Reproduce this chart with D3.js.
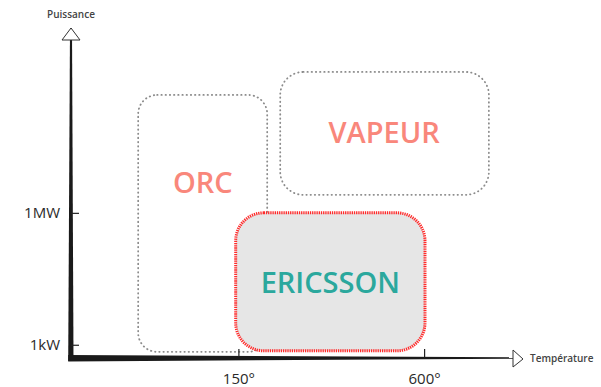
<!DOCTYPE html>
<html>
<head>
<meta charset="utf-8">
<script src="https://cdn.jsdelivr.net/npm/d3@7"></script>
<style>
  body { margin: 0; background: #fff; }
  svg { display: block; font-family: "Open Sans", sans-serif; }
</style>
</head>
<body>
<div id="canvas"></div>
<script>
"use strict"

/* drawing size */
let svgWidth = 601;
let svgHeight = 387;

/* data: technology zones, temperature in deg C, power in kW */
let zoneNames = ["ORC", "VAPEUR", "ERICSSON"];
let zoneTmin = [71, 205, 147];
let zoneTmax = [186, 973, 604];
let zonePmin = [0.69, 2570, 0.73];
let zonePmax = [480000, 1600000, 1000];
/* where each name sits */
let labelT = [115, 445, 298];
let labelP = [4800, 66000, 25.7];

/* axis ticks */
let tempTicks = [150, 600];
let tempTickLabels = ["150°", "600°"];
let powerTicks = [1, 1000];
let powerTickLabels = ["1kW", "1MW"];

/* axis extents */
let tempDomain = [43, 1165];
let powerDomain = [0.5, 16000000];

/* scales (both log) */
let xScale = d3.scaleLog()
    .domain(tempDomain)
    .range([71, 513]);

let yScale = d3.scaleLog()
    .domain(powerDomain)
    .range([358, 28]);

let svg = d3.select("#canvas")
    .append("svg")
    .attr("width", svgWidth)
    .attr("height", svgHeight);

/* zones */
let zones = zoneNames.map(function (name, i) {
    return { name: name, t0: zoneTmin[i], t1: zoneTmax[i], p0: zonePmin[i], p1: zonePmax[i], lt: labelT[i], lp: labelP[i] };
});

let cornerRadius = { "ORC": 19, "VAPEUR": 23, "ERICSSON": 28 };

svg.selectAll("rect.zone")
    .data(zones)
    .join("rect")
    .attr("class", "zone")
    .attr("x", function (d) { return xScale(d.t0); })
    .attr("y", function (d) { return yScale(d.p1); })
    .attr("width", function (d) { return xScale(d.t1) - xScale(d.t0); })
    .attr("height", function (d) { return yScale(d.p0) - yScale(d.p1); })
    .attr("rx", function (d) { return cornerRadius[d.name]; })
    .attr("fill", function (d) { return d.name == "ERICSSON" ? "#e6e6e6" : "none"; })
    .attr("stroke", function (d) { return d.name == "ERICSSON" ? "#ff2b2b" : "#8c8c8c"; })
    .attr("stroke-width", function (d) { return d.name == "ERICSSON" ? 3 : 1.8; })
    .attr("stroke-linecap", function (d) { return d.name == "ERICSSON" ? "butt" : "round"; })
    .attr("stroke-dasharray", function (d) { return d.name == "ERICSSON" ? "1.3,0.9" : "0.4,3.8"; });

svg.selectAll("text.zoneLabel")
    .data(zones)
    .join("text")
    .attr("class", "zoneLabel")
    .attr("x", function (d) { return xScale(d.lt); })
    .attr("y", function (d) { return yScale(d.lp); })
    .attr("text-anchor", "middle")
    .attr("dy", "0.36em")
    .attr("font-size", 29)
    .attr("font-weight", 600)
    .attr("fill", function (d) { return d.name == "ERICSSON" ? "#2ba89d" : "#f9877b"; })
    .text(function (d) { return d.name; });

/* axes: tapered thick lines */
let x0 = xScale(tempDomain[0]);
let x1 = xScale(tempDomain[1]);
let y0 = yScale(powerDomain[0]);
let y1 = yScale(powerDomain[1]);

svg.append("path")
    .attr("d", `M${x0 - 2.8},${y0 - 3} L${x1},${y0 - 0.8} L${x1},${y0 + 0.8} L${x0 - 2.8},${y0 + 3.5} Z`)
    .attr("fill", "#1a1a1a");

svg.append("path")
    .attr("d", `M${x0 - 2.8},${y0 + 3} L${x0 - 1},${y1} L${x0 + 1},${y1} L${x0 + 2.5},${y0 + 3} Z`)
    .attr("fill", "#1a1a1a");

/* arrow heads */
svg.append("path")
    .attr("d", `M${x0},${y1} L${x0 + 9},${y1 + 12} L${x0 - 9},${y1 + 12} Z`)
    .attr("fill", "white")
    .attr("stroke", "#333")
    .attr("stroke-width", 1);

svg.append("path")
    .attr("d", `M${x1 + 10},${y0 + 1} L${x1},${y0 + 9} L${x1},${y0 - 8} Z`)
    .attr("fill", "white")
    .attr("stroke", "#333")
    .attr("stroke-width", 1);

/* ticks with d3 axes */
let xAxis = d3.axisBottom(xScale)
    .tickValues(tempTicks)
    .tickFormat(function (d, i) { return tempTickLabels[i]; })
    .tickSizeInner(-8)
    .tickSizeOuter(0)
    .tickPadding(16);

let gx = svg.append("g")
    .attr("transform", `translate(0,${y0 - 1})`)
    .call(xAxis);
gx.select(".domain").remove();
gx.selectAll(".tick line").attr("stroke", "#222").attr("stroke-width", 1.2);
gx.selectAll(".tick text")
    .attr("font-family", "Open Sans, sans-serif")
    .attr("font-size", 15)
    .attr("fill", "#2a2a2a");

let yAxis = d3.axisLeft(yScale)
    .tickValues(powerTicks)
    .tickFormat(function (d, i) { return powerTickLabels[i]; })
    .tickSizeInner(-8)
    .tickSizeOuter(0)
    .tickPadding(11);

let gy = svg.append("g")
    .attr("transform", `translate(${x0},0)`)
    .call(yAxis);
gy.select(".domain").remove();
gy.selectAll(".tick line").attr("stroke", "#222").attr("stroke-width", 1.2);
gy.selectAll(".tick text")
    .attr("font-family", "Open Sans, sans-serif")
    .attr("font-size", 15)
    .attr("fill", "#2a2a2a");

/* axis titles */
svg.append("text")
    .attr("x", x0)
    .attr("y", 14)
    .attr("dy", "0.35em")
    .attr("text-anchor", "middle")
    .attr("font-size", 10)
    .attr("font-weight", 600)
    .attr("fill", "#444")
    .text("Puissance");

svg.append("text")
    .attr("x", x1 + 17)
    .attr("y", y0)
    .attr("dy", "0.35em")
    .attr("font-size", 10)
    .attr("font-weight", 600)
    .attr("fill", "#444")
    .text("Température");
</script>
</body>
</html>
